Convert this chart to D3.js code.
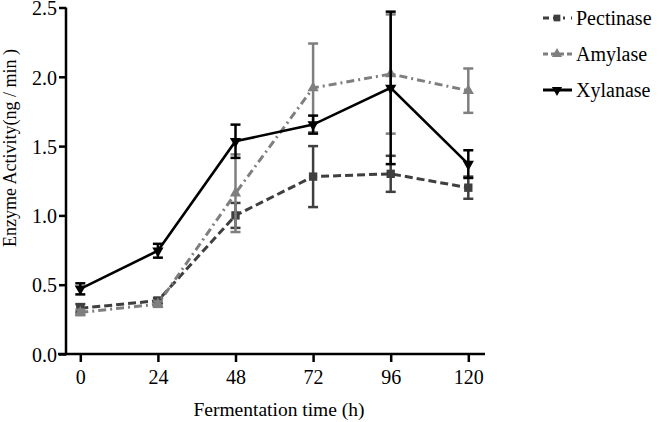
<!DOCTYPE html>
<html><head><meta charset="utf-8">
<script src="https://cdn.jsdelivr.net/npm/d3@7"></script>
<style>body{margin:0;background:#fff}svg{display:block}text{font-family:"Liberation Serif","Times New Roman",serif;fill:#000}</style>
</head><body><svg id="c" width="659" height="422"></svg>
<script>
const times = [0, 24, 48, 72, 96, 120];
const xTicks = [0, 24, 48, 72, 96, 120];
const yTicks = [0, 0.5, 1.0, 1.5, 2.0, 2.5];
const seriesNames = ["Pectinase", "Amylase", "Xylanase"];
const pectinase = [0.33, 0.385, 1.0, 1.28, 1.30, 1.20];
const pectinaseErr = [0.03, 0.02, 0.09, 0.22, 0.13, 0.08];
const amylase = [0.30, 0.36, 1.16, 1.92, 2.02, 1.90];
const amylaseErr = [0.02, 0.02, 0.28, 0.32, 0.43, 0.16];
const xylanase = [0.47, 0.745, 1.535, 1.655, 1.92, 1.37];
const xylanaseErr = [0.04, 0.05, 0.12, 0.065, 0.55, 0.10];

const svg = d3.select("#c");
const x = d3.scaleLinear().domain([0, 120]).range([80.3, 468.3]);
const y = d3.scaleLinear().domain([0, 2.5]).range([354, 7.5]);

const series = [
  {name: seriesNames[0], v: pectinase, e: pectinaseErr, color: "#3f3f3f", dash: "8,4", sym: d3.symbolSquare, size: 70, rot: 0},
  {name: seriesNames[1], v: amylase, e: amylaseErr, color: "#7f7f7f", dash: "8,4,2,4", sym: d3.symbolTriangle, size: 55, rot: 0},
  {name: seriesNames[2], v: xylanase, e: xylanaseErr, color: "#000000", dash: null, sym: d3.symbolTriangle, size: 55, rot: 180}
];

// axes
const ax = svg.append("g").attr("transform", "translate(66,0)")
  .call(d3.axisLeft(y).tickValues(yTicks).tickFormat(d3.format(".1f")).tickSize(7).tickPadding(2));
ax.select(".domain").remove();
ax.selectAll(".tick line").attr("stroke", "#000").attr("stroke-width", 2.5);
ax.selectAll(".tick text").style("font-size", "20px").attr("dy", "0.36em");

const bx = svg.append("g").attr("transform", "translate(0,354)")
  .call(d3.axisBottom(x).tickValues(xTicks).tickFormat(d3.format("d")).tickSize(8).tickPadding(8));
bx.select(".domain").remove();
bx.selectAll(".tick line").attr("stroke", "#000").attr("stroke-width", 2.5);
bx.selectAll(".tick text").style("font-size", "20px");

svg.append("line").attr("x1", 66).attr("x2", 66).attr("y1", y(2.5)).attr("y2", 355.2)
  .attr("stroke", "#000").attr("stroke-width", 2.5);
svg.append("line").attr("x1", 58).attr("x2", 485).attr("y1", 354).attr("y2", 354)
  .attr("stroke", "#000").attr("stroke-width", 2.5);

svg.append("text").attr("x", 279).attr("y", 416).attr("text-anchor", "middle")
  .style("font-size", "19.5px").text("Fermentation time (h)");
svg.append("text").attr("transform", "translate(16,148) rotate(-90)").attr("text-anchor", "middle")
  .style("font-size", "18px").text("Enzyme Activity(ng / min )");

// series
const line = d3.line().x((d, i) => x(times[i])).y(d => y(d));
series.forEach(s => {
  const g = svg.append("g");
  g.append("path").datum(s.v).attr("d", line).attr("fill", "none")
    .attr("stroke", s.color).attr("stroke-width", s.dash ? 3 : 2.6)
    .attr("stroke-dasharray", s.dash);
  s.v.forEach((v, i) => {
    const cx = x(times[i]);
    const lo = y(v - s.e[i]), hi = y(v + s.e[i]);
    g.append("line").attr("x1", cx).attr("x2", cx).attr("y1", lo).attr("y2", hi)
      .attr("stroke", s.color).attr("stroke-width", 2.5);
    [lo, hi].forEach(yy => g.append("line").attr("x1", cx - 5).attr("x2", cx + 5)
      .attr("y1", yy).attr("y2", yy).attr("stroke", s.color).attr("stroke-width", 2.5));
    g.append("path").attr("d", d3.symbol(s.sym, s.size)())
      .attr("transform", `translate(${cx},${y(v)}) rotate(${s.rot})`).attr("fill", s.color);
  });
});

// legend
const lg = svg.append("g");
series.forEach((s, i) => {
  const ly = 18 + i * 36;
  lg.append("line").attr("x1", 543).attr("x2", 572).attr("y1", ly).attr("y2", ly)
    .attr("stroke", s.color).attr("stroke-width", 3).attr("stroke-dasharray", s.dash ? (i === 0 ? "6,4,6,4,2" : "5,3,5,3") : null);
  lg.append("path").attr("d", d3.symbol(s.sym, 45)())
    .attr("transform", `translate(557,${ly}) rotate(${s.rot})`).attr("fill", s.color);
  lg.append("text").attr("x", 576).attr("y", ly).attr("dy", "0.34em")
    .style("font-size", "20px").text(s.name);
});
</script></body></html>
